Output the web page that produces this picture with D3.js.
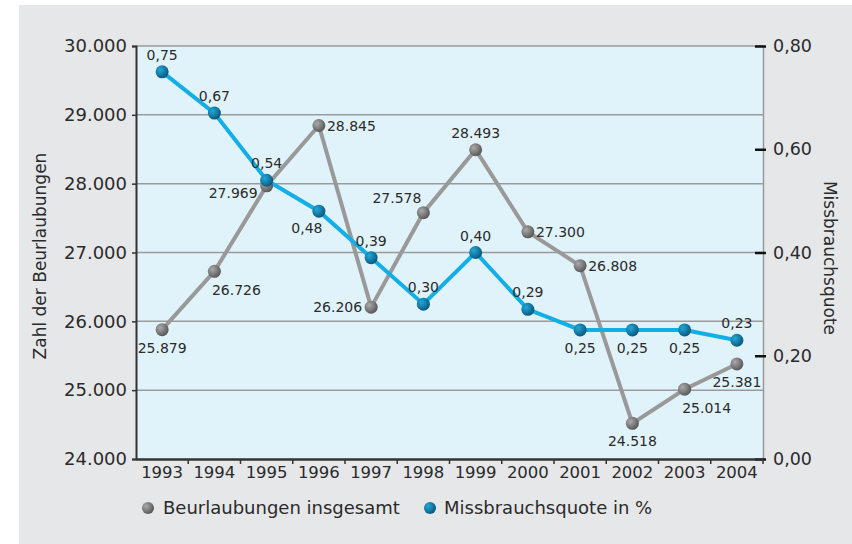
<!DOCTYPE html>
<meta charset="utf-8">
<style>
body { margin: 0; background: #fff; }
text { font-family: "DejaVu Sans", sans-serif; fill: #2b2b2b; }
.lbl { font-size: 14px; }
</style>
<body>
<svg width="852" height="544"></svg>
<script src="https://d3js.org/d3.v7.min.js"></script>
<script>
var years = ["1993","1994","1995","1996","1997","1998","1999","2000","2001","2002","2003","2004"];
var beurlaubungen = [25879, 26726, 27969, 28845, 26206, 27578, 28493, 27300, 26808, 24518, 25014, 25381];
var quote = [0.75, 0.67, 0.54, 0.48, 0.39, 0.30, 0.40, 0.29, 0.25, 0.25, 0.25, 0.23];
var leftTicks = [24000, 25000, 26000, 27000, 28000, 29000, 30000];
var rightTicks = [0, 0.2, 0.4, 0.6, 0.8];
// where each value label sits relative to its point
var grayPos = ["b","br","lb","r","l","tl","t","r","r","b","br","b"];
var bluePos = ["t","t","t","bl","t","t","t","t","b","b","b","t"];

var svg = d3.select("svg"),
    margin = {top: 46, right: 89, bottom: 85, left: 136},
    width = 852 - margin.left - margin.right,
    height = 544 - margin.top - margin.bottom;

var defs = svg.append("defs");
function ball(id, light, dark) {
  var gr = defs.append("radialGradient").attr("id", id)
    .attr("cx", "35%").attr("cy", "35%").attr("r", "70%");
  gr.append("stop").attr("offset", "0%").attr("stop-color", light);
  gr.append("stop").attr("offset", "100%").attr("stop-color", dark);
}
ball("gball", "#aaa", "#555");
ball("bball", "#22a8dc", "#0a5678");

svg.append("rect").attr("x", 19).attr("y", 5).attr("width", 833).attr("height", 539)
    .attr("fill", "#e6e7e9");

var g = svg.append("g").attr("transform", "translate(" + margin.left + "," + margin.top + ")");

var x = d3.scaleBand().domain(years).range([0, width]);
var y = d3.scaleLinear().domain([24000, 30000]).range([height, 0]);
var y2 = d3.scaleLinear().domain([0, 0.8]).range([height, 0]);

g.append("rect").attr("width", width).attr("height", height).attr("fill", "#e0f2fa");

// grid
g.selectAll(".grid").data(leftTicks.slice(1)).enter().append("line")
    .attr("x1", 0).attr("x2", width)
    .attr("y1", function(d) { return y(d); }).attr("y2", function(d) { return y(d); })
    .attr("stroke", "#9a9a9a").attr("stroke-width", 1.5);

// right axis
var ra = g.append("g").attr("transform", "translate(" + width + ",0)")
    .call(d3.axisRight(y2).tickValues(rightTicks).tickSize(0).tickPadding(10)
      .tickFormat(function(d) { return d3.format(".2f")(d).replace(".", ","); }));
ra.select(".domain").attr("stroke", "#9a9a9a").attr("stroke-width", 1.5);
ra.selectAll(".tick text").style("font-size", "17.5px").style("font-family", "DejaVu Sans");
ra.selectAll(".tick").append("line").attr("x1", -8).attr("x2", 3)
    .attr("stroke", "#111").attr("stroke-width", 2.5);

// left axis
var la = g.append("g")
    .call(d3.axisLeft(y).tickValues(leftTicks).tickSize(4).tickPadding(5)
      .tickFormat(function(d) { return d3.format(",")(d).replace(",", "."); }));
la.select(".domain").attr("stroke", "#333").attr("stroke-width", 2);
la.selectAll(".tick line").attr("stroke", "#333").attr("stroke-width", 1.5);
la.selectAll(".tick text").style("font-size", "18px").style("font-family", "DejaVu Sans");

// bottom axis
var ba = g.append("g").attr("transform", "translate(0," + height + ")")
    .call(d3.axisBottom(x).tickSize(0).tickPadding(7));
ba.select(".domain").attr("stroke", "#333").attr("stroke-width", 2.5);
ba.selectAll(".tick text").style("font-size", "16.5px").style("font-family", "DejaVu Sans");
ba.selectAll(".bt").data(years).enter().append("line")
    .attr("x1", function(d) { return x(d) + x.bandwidth(); })
    .attr("x2", function(d) { return x(d) + x.bandwidth(); })
    .attr("y1", 0).attr("y2", 5).attr("stroke", "#333").attr("stroke-width", 1.5);

// axis titles
svg.append("text").attr("transform", "translate(46,256) rotate(-90)")
    .attr("text-anchor", "middle").style("font-size", "17px").text("Zahl der Beurlaubungen");
svg.append("text").attr("transform", "translate(824,258) rotate(90)")
    .attr("text-anchor", "middle").style("font-size", "17px").text("Missbrauchsquote");

var cx = function(i) { return x(years[i]) + x.bandwidth() / 2; };

var line1 = d3.line().x(function(d, i) { return cx(i); }).y(function(d) { return y(d); });
var line2 = d3.line().x(function(d, i) { return cx(i); }).y(function(d) { return y2(d); });

g.append("path").datum(beurlaubungen).attr("d", line1)
    .attr("fill", "none").attr("stroke", "#999").attr("stroke-width", 4);
g.append("path").datum(quote).attr("d", line2)
    .attr("fill", "none").attr("stroke", "#12aee6").attr("stroke-width", 4);

g.selectAll(".gp").data(beurlaubungen).enter().append("circle")
    .attr("cx", function(d, i) { return cx(i); }).attr("cy", function(d) { return y(d); })
    .attr("r", 6.5).attr("fill", "url(#gball)");
g.selectAll(".bp").data(quote).enter().append("circle")
    .attr("cx", function(d, i) { return cx(i); }).attr("cy", function(d) { return y2(d); })
    .attr("r", 6.5).attr("fill", "url(#bball)");

var offs = {
  t:  [0, -12, "middle"], b: [0, 23, "middle"],
  l:  [-9, 5, "end"],     r: [8, 5, "start"],
  br: [22, 24, "middle"], bl: [-12, 22, "middle"],
  lb: [-9, 12, "end"],    tl: [-2, -10, "end"]
};
function labels(vals, pos, sc, fmt) {
  g.selectAll(null).data(vals).enter().append("text").attr("class", "lbl")
    .attr("x", function(d, i) { return cx(i) + offs[pos[i]][0]; })
    .attr("y", function(d, i) { return sc(d) + offs[pos[i]][1]; })
    .attr("text-anchor", function(d, i) { return offs[pos[i]][2]; })
    .text(fmt);
}
labels(beurlaubungen, grayPos, y, function(d) { return d3.format(",")(d).replace(",", "."); });
labels(quote, bluePos, y2, function(d) { return d3.format(".2f")(d).replace(".", ","); });

// legend
var leg = svg.append("g").attr("transform", "translate(148,508)");
leg.append("circle").attr("r", 6).attr("fill", "url(#gball)");
leg.append("text").attr("x", 15).attr("y", 6).style("font-size", "18px").text("Beurlaubungen insgesamt");
leg.append("circle").attr("cx", 282).attr("r", 6).attr("fill", "url(#bball)");
leg.append("text").attr("x", 296).attr("y", 6).style("font-size", "18px").text("Missbrauchsquote in %");
</script>
